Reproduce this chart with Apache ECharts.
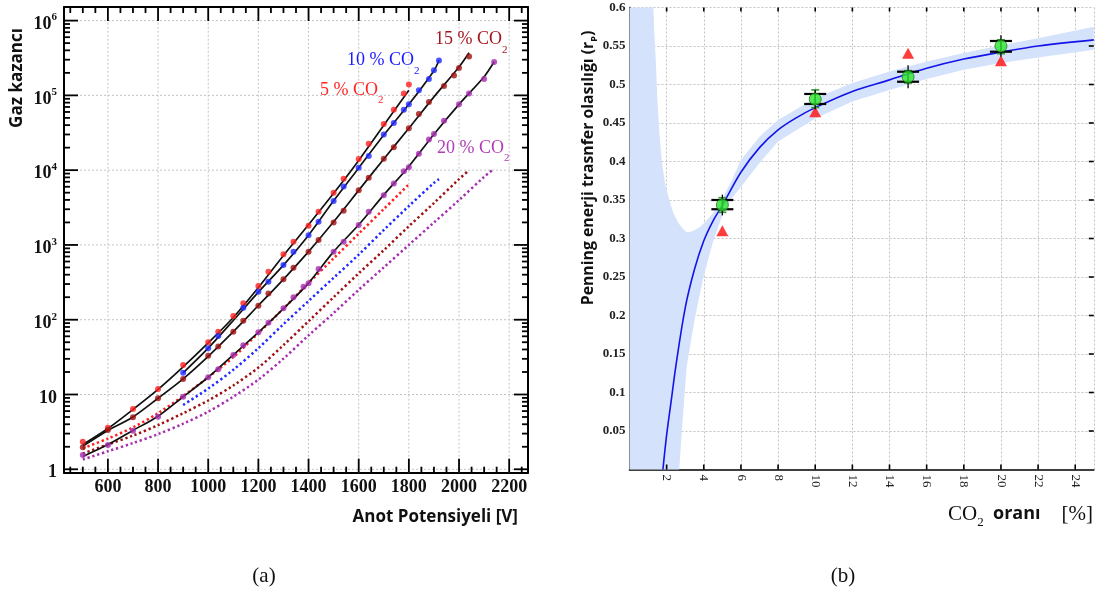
<!DOCTYPE html>
<html>
<head>
<meta charset="utf-8">
<title>Gaz kazancı ve Penning enerji transfer olasılığı</title>
<script src="https://cdn.jsdelivr.net/npm/echarts@6.0.0/dist/echarts.min.js"></script>
<style>
  html, body { margin: 0; padding: 0; background: #ffffff; }
  #chart { width: 1109px; height: 592px; }
</style>
</head>
<body>
<div id="chart"></div>
<script>
// ---------- (a) gas gain vs anode voltage ----------
// measured gain points for each Ar/CO2 mixture
const volt5  = [500,600,700,800,900,1000,1040,1100,1140,1200,1240,1300,1340,1400,1440,1500,1540,1600,1640,1700,1740,1780,1800];
const gain5  = [2.34,3.6,6.4,11.8,24.8,49.9,69,112,166,282,438,752,1104,1807,2770,4990,7670,14100,22500,41400,64000,106000,140000];
const volt10 = [900,1000,1040,1140,1200,1240,1300,1340,1400,1440,1500,1540,1600,1640,1700,1740,1780,1800,1840,1880,1900,1920];
const gain10 = [19.5,41.4,60.5,145,237,322,538,813,1350,2040,3860,6030,10800,15500,29900,42700,64000,76000,117000,166000,216000,293000];
const volt15 = [500,600,700,800,900,1000,1040,1100,1140,1200,1240,1300,1340,1400,1440,1500,1540,1600,1640,1700,1740,1800,1840,1880,1940,1980,2000,2040];
const gain15 = [1.97,3.35,4.95,8.9,16.1,33,43.7,69,97,154,225,347,496,813,1164,1990,2865,5370,7940,14250,20300,36300,56200,81300,133000,184000,232000,331000];
const volt20 = [500,600,700,800,900,1000,1040,1100,1140,1200,1240,1300,1340,1380,1400,1440,1500,1540,1600,1640,1700,1740,1780,1800,1840,1880,1900,1940,2000,2040,2100,2140];
const gain20 = [1.55,2.11,3.28,5.05,9.35,17,21.7,33.7,45.7,68,91,142,200,276,307,476,813,1104,1846,2780,4620,6610,9660,10960,16600,25700,30500,45700,75900,106000,166000,279000];

// fitted curves (solid black)
const fitVolt5  = [500,600,700,800,900,1000,1100,1200,1300,1400,1500,1600,1700,1800];
const fitGain5  = [2.14,3.51,6.31,11.7,23.4,49.0,107,269,724,1862,4898,13490,39810,117500];
const fitVolt10 = [900,1000,1100,1200,1300,1400,1500,1600,1700,1800,1900,1920];
const fitGain10 = [19.5,41.7,97.7,234,537,1349,3890,10715,29512,75860,213800,295100];
const fitVolt15 = [500,600,700,800,900,1000,1100,1200,1300,1400,1500,1600,1700,1800,1900,2000,2040];
const fitGain15 = [2.04,3.31,5.01,8.91,16.2,32.4,69.2,155,347,813,2042,5370,14125,36300,95500,239900,371500];
const fitVolt20 = [500,600,700,800,900,1000,1100,1200,1300,1400,1500,1600,1700,1800,1900,2000,2100,2140];
const fitGain20 = [1.48,2.14,3.31,5.13,9.33,17.0,33.9,67.6,141,309,813,1862,4677,11220,30200,75860,177800,281800];

// simulated curves (dotted)
const simVolt5  = [500,600,700,800,900,1000,1100,1200,1300,1400,1500,1600,1700,1800];
const simGain5  = [1.91,2.57,3.63,5.62,9.55,17.0,31.6,66.1,141,309,661,1413,3020,6457];
const simVolt10 = [900,1000,1100,1200,1300,1400,1500,1600,1700,1800,1900,1920];
const simGain10 = [7.24,12.0,21.4,41.7,87.1,178,363,741,1585,3311,6761,7586];
const simVolt15 = [500,600,700,800,900,1000,1100,1200,1300,1400,1500,1600,1700,1800,1900,2000,2040];
const simGain15 = [1.62,2.14,2.82,3.89,5.62,8.32,13.2,22.9,45.7,95.5,200,417,851,1778,3631,7586,10000];
const simVolt20 = [500,600,700,800,900,1000,1100,1200,1300,1400,1500,1600,1700,1800,1900,2000,2100,2140];
const simGain20 = [1.35,1.74,2.24,2.95,4.07,5.89,9.33,15.8,30.2,61.7,123,251,501,1000,1995,3981,8128,10470];

// axis ticks of panel (a)
const voltTicks = [600,800,1000,1200,1400,1600,1800,2000,2200];
const gainTicks = [1,10,100,1000,10000,100000,1000000];
const gainTickText = ['{m|1}','{m|10}','{m|10}{e|2}','{m|10}{e|3}','{m|10}{e|4}','{m|10}{e|5}','{m|10}{e|6}'];
const mixNames = ['5','10','15','20'];

// ---------- (b) Penning transfer probability vs CO2 fraction ----------
const co2Pct      = [5, 10, 15, 20];
const rpMeasured  = [0.3435, 0.481, 0.510, 0.550];
const rpErrLow    = [0.330, 0.468, 0.495, 0.536];
const rpErrHigh   = [0.357, 0.493, 0.525, 0.564];
const rpCapLow    = [0.338, 0.4747, 0.5036, 0.5426];
const rpCapHigh   = [0.350, 0.4877, 0.5166, 0.5565];
const rpGreenLow  = [0.334, 0.470, 0.502, 0.540];
const rpGreenHigh = [0.353, 0.493, 0.518, 0.558];
const rpTriangle  = [0.310, 0.4647, 0.5405, 0.531];

const rpFitX = [1.8, 2.0, 2.25, 2.5, 3.0, 3.5, 4.0, 4.5, 5.0, 6.0, 7.0, 8.0, 9.0, 10, 12, 14, 16, 18, 20, 22, 25];
const rpFitY = [0, 0.045, 0.09, 0.135, 0.21, 0.26, 0.297, 0.323, 0.343, 0.386, 0.418, 0.441, 0.457, 0.47, 0.491, 0.506, 0.521, 0.533, 0.542, 0.55, 0.558];

// confidence band: upper edge left to right, lower edge left to right
const bandUpX = [0, 1.28, 1.34, 1.43, 1.50, 1.61, 1.73, 1.91, 2.14, 2.36, 2.63, 2.90, 3.08, 3.35, 3.80, 4.33, 4.87, 5.5, 6.0, 7.0, 8.0, 10, 12, 14, 16, 18, 20, 22, 25];
const bandUpY = [0.6, 0.6, 0.566, 0.523, 0.48, 0.437, 0.402, 0.372, 0.35, 0.333, 0.32, 0.312, 0.308, 0.309, 0.315, 0.328, 0.346, 0.375, 0.402, 0.432, 0.454, 0.482, 0.502, 0.517, 0.530, 0.541, 0.551, 0.560, 0.575];
const bandLoX = [0, 2.68, 2.81, 3.08, 3.53, 3.98, 4.52, 5.05, 5.5, 6.0, 7.0, 8.0, 10, 12, 14, 16, 18, 20, 22, 25];
const bandLoY = [0, 0, 0.047, 0.134, 0.198, 0.25, 0.298, 0.333, 0.352, 0.367, 0.398, 0.426, 0.456, 0.478, 0.493, 0.507, 0.519, 0.528, 0.535, 0.545];

// axis ticks of panel (b)
const pctTicks = [2,4,6,8,10,12,14,16,18,20,22,24];
const rpTicks = [0.05,0.1,0.15,0.2,0.25,0.3,0.35,0.4,0.45,0.5,0.55];

// ---------- helpers ----------
const SERIF = '"Liberation Serif", "Times New Roman", serif';
const SANS = '"Open Sans", "DejaVu Sans", sans-serif';
const pairs = (xs, ys) => xs.map((x, i) => [x, ys[i]]);
const seg = (x1, y1, x2, y2, stroke, lw, dash) => ({
  type: 'line', shape: { x1, y1, x2, y2 },
  style: dash ? { stroke, lineWidth: lw, lineDash: dash } : { stroke, lineWidth: lw }
});

// minor tick positions (every 50 V, and 2..9 within each decade)
const voltMinor = [];
for (let v = 450; v <= 2250; v += 50) if (v % 200 !== 0) voltMinor.push(v);
const gainMinor = [];
for (let d = 1; d <= 1e5; d *= 10) for (let m = 2; m <= 9; m++) gainMinor.push(m * d);

const gases = [
  { pV: volt5,  pG: gain5,  fV: fitVolt5,  fG: fitGain5,  sV: simVolt5,  sG: simGain5,  color: '#ff1f1f', text: '#ff2626' },
  { pV: volt10, pG: gain10, fV: fitVolt10, fG: fitGain10, sV: simVolt10, sG: simGain10, color: '#1f2bff', text: '#1a1aff' },
  { pV: volt15, pG: gain15, fV: fitVolt15, fG: fitGain15, sV: simVolt15, sG: simGain15, color: '#9e1212', text: '#a3161c' },
  { pV: volt20, pG: gain20, fV: fitVolt20, fG: fitGain20, sV: simVolt20, sG: simGain20, color: '#a62cb0', text: '#b23cb6' }
];

const VMIN = 425, VMAX = 2275, GMIN = 0.9, GMAX = 1.52e6;
const frameA = { show: true, lineStyle: { color: '#000', width: 2 } };
const frameB = { show: true, lineStyle: { color: '#333', width: 1.5 } };

const series = [];

// panel (a): dotted grid plus inward ticks on all four sides
series.push({
  type: 'custom', xAxisIndex: 0, yAxisIndex: 0, data: [[1000, 100]], silent: true, z: 1,
  renderItem: (params, api) => {
    const ch = [];
    const yb = api.coord([VMIN, GMIN])[1], yt = api.coord([VMIN, GMAX])[1];
    const xl = api.coord([VMIN, GMIN])[0], xr = api.coord([VMAX, GMIN])[0];
    voltTicks.forEach(v => { const x = api.coord([v, GMIN])[0]; ch.push(seg(x, yb, x, yt, '#c4c4c4', 1, [2, 2])); });
    gainTicks.forEach(g => { const y = api.coord([VMIN, g])[1]; ch.push(seg(xl, y, xr, y, '#c4c4c4', 1, [2, 2])); });
    const vt = (list, len) => list.forEach(v => {
      const x = api.coord([v, GMIN])[0];
      ch.push(seg(x, yb, x, yb - len, '#000', 1.8), seg(x, yt, x, yt + len, '#000', 1.8));
    });
    const gt = (list, len) => list.forEach(g => {
      const y = api.coord([VMIN, g])[1];
      ch.push(seg(xl, y, xl + len, y, '#000', 1.8), seg(xr, y, xr - len, y, '#000', 1.8));
    });
    vt(voltTicks, 14); vt(voltMinor, 6);
    gt(gainTicks, 14); gt(gainMinor, 6);
    return { type: 'group', children: ch };
  }
});

gases.forEach((g) => {
  series.push({
    type: 'line', xAxisIndex: 0, yAxisIndex: 0, data: pairs(g.sV, g.sG),
    smooth: 0.3, showSymbol: false, silent: true, z: 2,
    lineStyle: { color: g.color, width: 2.5, type: [2.3, 2.7] }
  });
  series.push({
    type: 'line', xAxisIndex: 0, yAxisIndex: 0, data: pairs(g.fV, g.fG),
    smooth: 0.3, showSymbol: false, silent: true, z: 3,
    lineStyle: { color: '#111', width: 1.7 }
  });
  series.push({
    type: 'scatter', xAxisIndex: 0, yAxisIndex: 0, data: pairs(g.pV, g.pG),
    symbol: 'circle', symbolSize: 6, z: 4,
    itemStyle: { color: g.color }
  });
});

// panel (b): confidence band and inward ticks on bottom, top and right
series.push({
  type: 'custom', xAxisIndex: 2, yAxisIndex: 2, data: [[10, 0.3]], silent: true, z: 1,
  renderItem: (params, api) => {
    const pts = [];
    for (let i = 0; i < bandUpX.length; i++) pts.push(api.coord([bandUpX[i], bandUpY[i]]));
    for (let i = bandLoX.length - 1; i >= 0; i--) pts.push(api.coord([bandLoX[i], bandLoY[i]]));
    const ch = [{ type: 'polygon', shape: { points: pts }, style: { fill: '#d4e2fb' } }];
    const yb = api.coord([0, 0])[1], yt = api.coord([0, 0.6])[1], xr = api.coord([25, 0])[0];
    pctTicks.forEach(p => {
      const x = api.coord([p, 0])[0];
      ch.push(seg(x, yb, x, yb - 5, '#000', 1.6), seg(x, yt, x, yt + 4, '#000', 1.6));
    });
    rpTicks.forEach(r => {
      const y = api.coord([0, r])[1];
      ch.push(seg(xr, y, xr - 5, y, '#000', 1.6));
    });
    return { type: 'group', children: ch };
  }
});
series.push({
  type: 'line', xAxisIndex: 2, yAxisIndex: 2, data: pairs(rpFitX, rpFitY),
  smooth: 0.35, showSymbol: false, silent: true, z: 2,
  lineStyle: { color: '#1414e8', width: 1.6 }
});
series.push({
  type: 'scatter', xAxisIndex: 2, yAxisIndex: 2, data: pairs(co2Pct, rpTriangle),
  symbol: 'triangle', symbolSize: [12, 11], z: 3,
  itemStyle: { color: '#ff0c0c' }
});
series.push({
  type: 'custom', xAxisIndex: 2, yAxisIndex: 2, silent: true, z: 4,
  data: co2Pct.map((c, i) => [c, rpErrLow[i], rpErrHigh[i], rpCapLow[i], rpCapHigh[i], rpGreenLow[i], rpGreenHigh[i]]),
  encode: { x: 0, y: [1, 2] },
  renderItem: (params, api) => {
    const x = api.value(0);
    const eLo = api.coord([x, api.value(1)]), eHi = api.coord([x, api.value(2)]);
    const cLo = api.coord([x, api.value(3)]), cHi = api.coord([x, api.value(4)]);
    const gLo = api.coord([x, api.value(5)]), gHi = api.coord([x, api.value(6)]);
    const hw = 11, gw = 4;
    return {
      type: 'group', children: [
        seg(gLo[0], gLo[1], gHi[0], gHi[1], '#2f9a2f', 1.6),
        seg(gHi[0] - gw, gHi[1], gHi[0] + gw, gHi[1], '#2f9a2f', 1.6),
        seg(gLo[0] - gw, gLo[1], gLo[0] + gw, gLo[1], '#2f9a2f', 1.6),
        seg(eLo[0], eLo[1], eHi[0], eHi[1], '#000', 1.3),
        seg(cHi[0] - hw, cHi[1], cHi[0] + hw, cHi[1], '#000', 2.2),
        seg(cLo[0] - hw, cLo[1], cLo[0] + hw, cLo[1], '#000', 2.2)
      ]
    };
  }
});
series.push({
  type: 'scatter', xAxisIndex: 2, yAxisIndex: 2, data: pairs(co2Pct, rpMeasured),
  symbol: 'circle', symbolSize: 12, z: 5,
  itemStyle: { color: '#2ee62e', borderColor: '#1b7d1b', borderWidth: 1 }
});

function gasLabel(i, x, y) {
  const col = gases[i].text;
  return {
    type: 'text', x, y, z: 100, silent: true,
    style: {
      text: '{m|' + mixNames[i] + ' % CO}{s|2}', align: 'left', verticalAlign: 'top',
      rich: {
        m: { fontFamily: SERIF, fontSize: 18, fill: col, lineHeight: 18, verticalAlign: 'top' },
        s: { fontFamily: SERIF, fontSize: 11, fill: col, lineHeight: 11, padding: [14, 0, 0, 0], verticalAlign: 'top' }
      }
    }
  };
}

const option = {
  animation: false,
  backgroundColor: '#ffffff',
  grid: [
    { left: 64, top: 7, width: 464, height: 465.7, containLabel: false, outerBoundsMode: 'none' },
    { left: 629.5, top: 7.5, width: 464.3, height: 462, containLabel: false, outerBoundsMode: 'none' }
  ],
  xAxis: [
    {
      type: 'value', gridIndex: 0, position: 'bottom', min: VMIN, max: VMAX,
      axisLine: frameA, axisTick: { show: false }, splitLine: { show: false },
      axisLabel: { show: true, customValues: voltTicks, margin: 6, formatter: (v) => String(v),
        fontFamily: SERIF, fontWeight: 'bold', fontSize: 18, color: '#111' }
    },
    {
      type: 'value', gridIndex: 0, position: 'top', min: VMIN, max: VMAX,
      axisLine: frameA, axisTick: { show: false }, splitLine: { show: false }, axisLabel: { show: false }
    },
    {
      type: 'value', gridIndex: 1, position: 'bottom', min: 0, max: 25, interval: 2,
      axisLine: frameB, axisTick: { show: false },
      splitLine: { show: true, lineStyle: { color: '#c2c2c2', width: 1, type: [2, 2] } },
      axisLabel: { show: true, rotate: -90, margin: 5, showMinLabel: false, showMaxLabel: false,
        fontFamily: SERIF, fontSize: 13, color: '#222' }
    },
    {
      type: 'value', gridIndex: 1, position: 'top', min: 0, max: 25, interval: 2,
      axisLine: frameB, axisTick: { show: false }, splitLine: { show: false }, axisLabel: { show: false }
    }
  ],
  yAxis: [
    {
      type: 'log', logBase: 10, gridIndex: 0, position: 'left', min: GMIN, max: GMAX,
      axisLine: frameA, axisTick: { show: false }, splitLine: { show: false },
      axisLabel: {
        show: true, customValues: gainTicks, margin: 7,
        formatter: (v) => {
          let idx = 0, best = Infinity;
          gainTicks.forEach((t, i) => { const d = Math.abs(Math.log10(t) - Math.log10(v)); if (d < best) { best = d; idx = i; } });
          return gainTickText[idx];
        },
        rich: {
          m: { fontFamily: SERIF, fontWeight: 'bold', fontSize: 18, color: '#111', lineHeight: 17, padding: [3, 0, 3, 0], verticalAlign: 'top' },
          e: { fontFamily: SERIF, fontWeight: 'bold', fontSize: 11, color: '#111', lineHeight: 11, padding: [0, 0, 12, 0], verticalAlign: 'top' }
        }
      }
    },
    {
      type: 'log', logBase: 10, gridIndex: 0, position: 'right', min: GMIN, max: GMAX,
      axisLine: frameA, axisTick: { show: false }, splitLine: { show: false }, axisLabel: { show: false }
    },
    {
      type: 'value', gridIndex: 1, position: 'left', min: 0, max: 0.6, interval: 0.05,
      axisLine: frameB, axisTick: { show: false },
      splitLine: { show: true, lineStyle: { color: '#c2c2c2', width: 1, type: [2, 2] } },
      axisLabel: { show: true, margin: 4, showMinLabel: false, showMaxLabel: true,
        fontFamily: SERIF, fontWeight: 'bold', fontSize: 13, color: '#222' }
    },
    {
      type: 'value', gridIndex: 1, position: 'right', min: 0, max: 0.6, interval: 0.05,
      axisLine: frameB, axisTick: { show: false }, splitLine: { show: false }, axisLabel: { show: false }
    }
  ],
  series,
  graphic: [
    gasLabel(0, 320, 81),
    gasLabel(1, 347, 51.5),
    gasLabel(2, 435, 30.5),
    gasLabel(3, 437, 139),
    {
      type: 'text', x: 17, y: 78, rotation: Math.PI / 2, z: 100, silent: true,
      style: { text: 'Gaz kazancı', align: 'center', verticalAlign: 'middle',
        font: 'bold 17px ' + SANS, fill: '#111' }
    },
    {
      type: 'text', x: 518, y: 517, z: 100, silent: true,
      style: { text: 'Anot Potensiyeli [V]', align: 'right', verticalAlign: 'middle',
        font: 'bold 17px ' + SANS, fill: '#111' }
    },
    {
      type: 'text', x: 590, y: 168, rotation: Math.PI / 2, z: 100, silent: true,
      style: {
        text: '{t|Penning enerji trasnfer olasılığı (r}{s|P}{t|)}', align: 'center', verticalAlign: 'middle',
        rich: {
          t: { fontFamily: SANS, fontWeight: 'bold', fontSize: 15.8, fill: '#111', lineHeight: 19, verticalAlign: 'top' },
          s: { fontFamily: SANS, fontWeight: 'bold', fontSize: 9, fill: '#111', lineHeight: 9, padding: [9, 0, 0, 0], verticalAlign: 'top' }
        }
      }
    },
    {
      type: 'text', x: 1093, y: 504, z: 100, silent: true,
      style: {
        text: '{c|CO}{s|2}{o|  oranı}{c|    [%]}', align: 'right', verticalAlign: 'top',
        rich: {
          c: { fontFamily: SERIF, fontSize: 21, fill: '#111', lineHeight: 20, verticalAlign: 'top' },
          s: { fontFamily: SERIF, fontSize: 13, fill: '#111', lineHeight: 13, padding: [12, 0, 0, 0], verticalAlign: 'top' },
          o: { fontFamily: SANS, fontWeight: 'bold', fontSize: 18, fill: '#111', lineHeight: 20, padding: [1, 0, 0, 0], verticalAlign: 'top' }
        }
      }
    },
    {
      type: 'text', x: 264, y: 576, z: 100, silent: true,
      style: { text: '(a)', align: 'center', verticalAlign: 'middle', font: '21px ' + SERIF, fill: '#111' }
    },
    {
      type: 'text', x: 843, y: 576, z: 100, silent: true,
      style: { text: '(b)', align: 'center', verticalAlign: 'middle', font: '21px ' + SERIF, fill: '#111' }
    }
  ]
};

const chart = echarts.init(document.getElementById('chart'), null, { renderer: 'canvas', width: 1109, height: 592 });
chart.setOption(option);
</script>
</body>
</html>
